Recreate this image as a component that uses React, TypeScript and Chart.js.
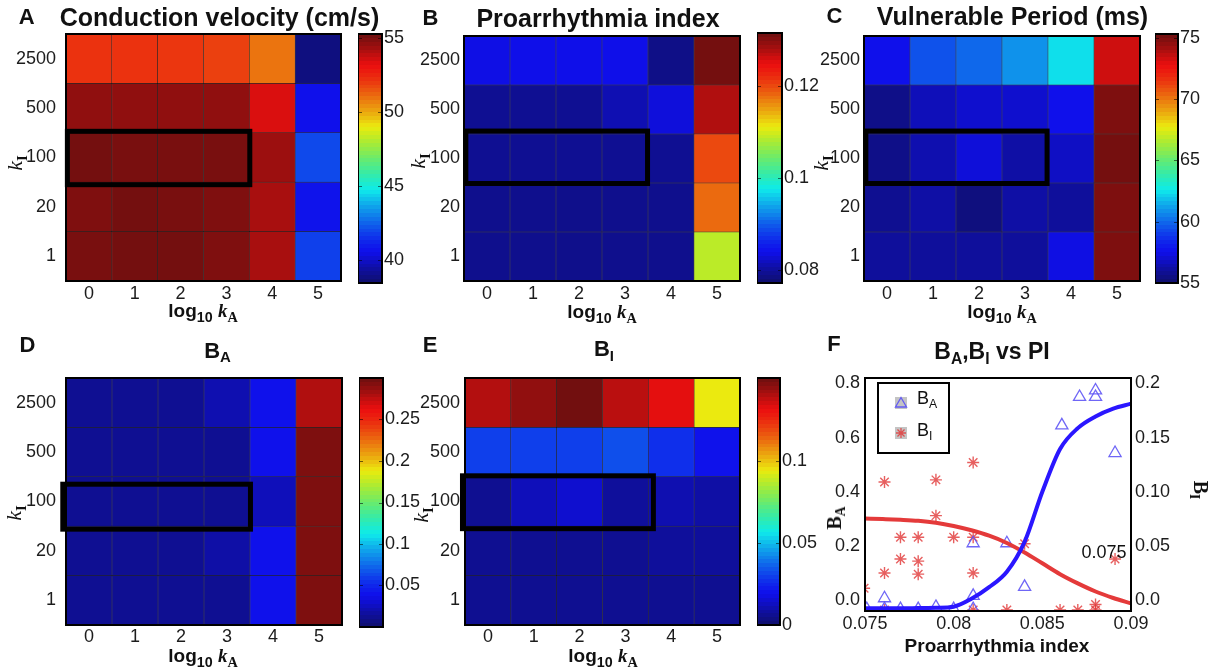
import React, { useEffect, useRef } from 'react';
import { Chart, registerables } from 'chart.js';

Chart.register(...registerables);

const SANS = '"Liberation Sans", Arial, Helvetica, sans-serif';
const SERIF = '"Liberation Serif", "Times New Roman", serif';

// ---- grid axes shared by the five maps ----
const kALabels = ['0', '1', '2', '3', '4', '5'];
const kILabels = ['1', '20', '100', '500', '2500'];

// Rows follow kILabels (kI = 1, 20, 100, 500, 2500); columns follow kALabels.
const conductionVelocity = [
  [55.0, 55.1, 55.1, 54.9, 54.2, 41.8],
  [54.9, 55.1, 55.0, 54.9, 54.2, 40.7],
  [55.1, 55.0, 55.0, 55.0, 54.4, 42.0],
  [54.6, 54.6, 54.6, 54.6, 53.4, 40.6],
  [52.2, 52.2, 52.1, 51.9, 50.9, 38.8],
];
const proarrhythmiaIndex = [
  [0.079, 0.079, 0.0789, 0.079, 0.079, 0.1087],
  [0.079, 0.079, 0.0789, 0.079, 0.079, 0.118],
  [0.0793, 0.0793, 0.0793, 0.0793, 0.0793, 0.12],
  [0.0793, 0.0793, 0.0793, 0.081, 0.0831, 0.1277],
  [0.0836, 0.0838, 0.0838, 0.0838, 0.0787, 0.131],
];
const vulnerablePeriod = [
  [56.0, 56.0, 56.0, 56.0, 57.4, 74.9],
  [55.8, 56.2, 55.4, 56.2, 56.0, 74.9],
  [55.6, 56.4, 57.2, 56.2, 56.8, 75.1],
  [55.6, 56.6, 57.0, 57.0, 57.6, 74.9],
  [57.6, 59.5, 60.0, 60.9, 62.4, 73.3],
];
const bAMap = [
  [0.012, 0.012, 0.012, 0.012, 0.039, 0.294],
  [0.012, 0.012, 0.012, 0.018, 0.039, 0.294],
  [0.012, 0.012, 0.012, 0.012, 0.024, 0.294],
  [0.012, 0.012, 0.012, 0.012, 0.039, 0.294],
  [0.012, 0.012, 0.012, 0.021, 0.039, 0.279],
];
const bIMap = [
  [0.006, 0.006, 0.006, 0.006, 0.006, 0.006],
  [0.006, 0.006, 0.006, 0.006, 0.0075, 0.0075],
  [0.006, 0.012, 0.015, 0.0075, 0.0106, 0.009],
  [0.03, 0.03, 0.03, 0.033, 0.027, 0.02],
  [0.14, 0.145, 0.15, 0.139, 0.133, 0.0944],
];

// colour ranges and colourbar ticks
const cvRange = [38.45, 55.25];
const cvTicks = [40, 45, 50, 55];
const cvTickLabels = ['40', '45', '50', '55'];
const piRange = [0.0771, 0.1315];
const piTicks = [0.08, 0.1, 0.12];
const piTickLabels = ['0.08', '0.1', '0.12'];
const vpRange = [55, 75.3];
const vpTicks = [55, 60, 65, 70, 75];
const vpTickLabels = ['55', '60', '65', '70', '75'];
const bARange = [0, 0.3];
const bATicks = [0.05, 0.1, 0.15, 0.2, 0.25];
const bATickLabels = ['0.05', '0.1', '0.15', '0.2', '0.25'];
const bIRange = [0, 0.151];
const bITicks = [0, 0.05, 0.1];
const bITickLabels = ['0', '0.05', '0.1'];

// ---- B_A, B_I versus proarrhythmia index ----
const piBA = [0.0751, 0.0761, 0.0761, 0.077, 0.078, 0.079, 0.08, 0.0811, 0.0811, 0.0811, 0.083, 0.084, 0.0861, 0.0871, 0.088, 0.088, 0.0891];
const baValues = [-0.033, 0.007, -0.033, -0.033, -0.033, -0.025, -0.033, 0.016, -0.033, 0.21, 0.21, 0.049, 0.645, 0.75, 0.774, 0.75, 0.543];
const piBI = [0.07495, 0.07495, 0.07495, 0.0761, 0.0761, 0.0761, 0.077, 0.077, 0.078, 0.078, 0.078, 0.079, 0.079, 0.08, 0.0811, 0.0811, 0.0811, 0.0811, 0.083, 0.084, 0.086, 0.087, 0.088, 0.088, 0.0891];
const biValues = [0.058, 0.046, 0.011, 0.109, 0.025, -0.009, 0.058, 0.038, 0.058, 0.036, 0.024, 0.111, 0.078, 0.058, 0.127, 0.058, 0.025, -0.009, -0.009, 0.052, -0.009, -0.009, -0.004, -0.009, 0.038];
const fitPI = [0.075, 0.076, 0.077, 0.078, 0.079, 0.08, 0.081, 0.082, 0.083, 0.084, 0.085, 0.086, 0.087, 0.088, 0.089, 0.09];
const baFit = [-0.03, -0.03, -0.03, -0.029, -0.028, -0.024, 0.005, 0.048, 0.105, 0.215, 0.4, 0.558, 0.635, 0.678, 0.707, 0.725];
const biFit = [0.0753, 0.0748, 0.0742, 0.0733, 0.0715, 0.0685, 0.0645, 0.0595, 0.0528, 0.044, 0.034, 0.024, 0.0155, 0.008, 0.002, -0.003];
const piAxisTicks = [0.075, 0.08, 0.085, 0.09];
const piAxisLabels = ['0.075', '0.08', '0.085', '0.09'];
const baAxisTicks = [0, 0.2, 0.4, 0.6, 0.8];
const baAxisLabels = ['0.0', '0.2', '0.4', '0.6', '0.8'];
const biAxisTicks = [0, 0.05, 0.1, 0.15, 0.2];
const biAxisLabels = ['0.0', '0.05', '0.10', '0.15', '0.2'];

// ---- jet colour map (slightly darkened, as printed) ----
function jet(t: number): number[] {
  const u = Math.min(1, Math.max(0, t));
  const f = (v: number) => Math.min(1, Math.max(0, 1.5 - Math.abs(v)));
  return [f(4 * u - 3), f(4 * u - 2), f(4 * u - 1)];
}
function jetColor(t: number): string {
  const c = jet(t);
  return `rgb(${c.map((v) => Math.round(255 * (0.06 + 0.86 * Math.pow(v, 1.25)))).join(',')})`;
}

const tickFont = { family: SANS, size: 18 };
const TICK_COLOR = '#1c1c1c';

const framePlugin = {
  id: 'frame',
  afterDatasetsDraw(chart: any) {
    const { ctx, chartArea: a } = chart;
    ctx.save();
    ctx.strokeStyle = '#000';
    ctx.lineWidth = 2;
    ctx.strokeRect(a.left, a.top, a.right - a.left, a.bottom - a.top);
    ctx.restore();
  },
};

type Rect = { x: number; y: number; w: number; h: number };

function Heatmap(props: { plot: Rect; values: number[][]; range: number[]; box: number[]; yPad: number; xPad: number }) {
  const { plot, values, range, box, yPad, xPad } = props;
  const ref = useRef<HTMLCanvasElement>(null);
  const ML = 62, MT = 26, MR = 8, MB = 34;
  useEffect(() => {
    const [lo, hi] = range;
    const highlight = {
      id: 'highlight',
      afterDatasetsDraw(chart: any) {
        const { ctx, scales } = chart;
        const l = scales.x.getPixelForValue(box[0]);
        const r = scales.x.getPixelForValue(box[1]);
        const b = scales.y.getPixelForValue(box[2]);
        const t = scales.y.getPixelForValue(box[3]);
        ctx.save();
        ctx.strokeStyle = '#000';
        ctx.lineWidth = 5;
        ctx.strokeRect(l, t, r - l, b - t);
        ctx.restore();
      },
    };
    const chart = new Chart(ref.current!, {
      type: 'bar',
      data: {
        labels: kALabels,
        datasets: values.map((row, r) => ({
          data: row.map(() => [r - 0.5, r + 0.5]),
          backgroundColor: row.map((v) => jetColor((v - lo) / (hi - lo))),
          borderColor: 'rgba(0,0,0,0.72)',
          borderWidth: 0.6,
          borderSkipped: false,
          grouped: false,
          barPercentage: 1,
          categoryPercentage: 1,
        })),
      } as any,
      options: {
        responsive: false,
        animation: false,
        devicePixelRatio: 1,
        layout: { padding: { left: 0, top: MT, right: MR, bottom: 0 } },
        plugins: { legend: { display: false }, tooltip: { enabled: false } },
        scales: {
          x: {
            grid: { display: false, drawTicks: false },
            border: { display: false },
            ticks: { font: tickFont, color: TICK_COLOR, padding: xPad, maxRotation: 0 },
            afterFit: (s: any) => { s.height = MB; },
          },
          y: {
            min: -0.5,
            max: 4.5,
            grid: { display: false, drawTicks: false },
            border: { display: false },
            afterBuildTicks: (s: any) => { s.ticks = kILabels.map((_, i) => ({ value: i })); },
            ticks: { font: tickFont, color: TICK_COLOR, padding: yPad, callback: (v: any) => kILabels[Math.round(v)] },
            afterFit: (s: any) => { s.width = ML; },
          },
        },
      } as any,
      plugins: [highlight, framePlugin],
    });
    return () => chart.destroy();
  }, []);
  const W = plot.w + ML + MR, H = plot.h + MT + MB;
  return <canvas ref={ref} width={W} height={H} style={{ position: 'absolute', left: plot.x - ML, top: plot.y - MT, width: W, height: H }} />;
}

function Colorbar(props: { bar: Rect; range: number[]; ticks: number[]; labels: string[] }) {
  const { bar, range, ticks, labels } = props;
  const ref = useRef<HTMLCanvasElement>(null);
  const MV = 16, LW = 52;
  useEffect(() => {
    const [lo, hi] = range;
    const tickMarks = {
      id: 'cbTicks',
      afterDatasetsDraw(chart: any) {
        const { ctx, chartArea: a, scales } = chart;
        ctx.save();
        ctx.strokeStyle = 'rgba(0,0,0,0.55)';
        ctx.lineWidth = 1;
        ticks.forEach((t) => {
          const p = Math.round(scales.y.getPixelForValue(t)) + 0.5;
          ctx.beginPath();
          ctx.moveTo(a.left, p); ctx.lineTo(a.left + 4, p);
          ctx.moveTo(a.right, p); ctx.lineTo(a.right - 4, p);
          ctx.stroke();
        });
        ctx.restore();
      },
    };
    const chart = new Chart(ref.current!, {
      type: 'bar',
      data: {
        labels: [''],
        datasets: [{
          data: [[lo, hi]],
          backgroundColor: (c: any) => {
            const ch = c.chart;
            const y = ch.scales.y;
            if (!ch.chartArea || !y) return 'transparent';
            const g = ch.ctx.createLinearGradient(0, y.getPixelForValue(lo), 0, y.getPixelForValue(hi));
            for (let i = 0; i < 64; i++) {
              const col = jetColor((i + 0.5) / 64);
              g.addColorStop(i / 64, col);
              g.addColorStop((i + 1) / 64, col);
            }
            return g;
          },
          borderWidth: 0,
          barPercentage: 1,
          categoryPercentage: 1,
        }],
      } as any,
      options: {
        responsive: false,
        animation: false,
        devicePixelRatio: 1,
        layout: { padding: { left: 0, top: MV, right: 0, bottom: MV } },
        plugins: { legend: { display: false }, tooltip: { enabled: false } },
        scales: {
          x: { display: false },
          y: {
            position: 'right',
            min: lo,
            max: hi,
            grid: { display: false, drawTicks: false },
            border: { display: false },
            afterBuildTicks: (s: any) => { s.ticks = ticks.map((v) => ({ value: v })); },
            ticks: { font: tickFont, color: TICK_COLOR, padding: 2, callback: (_v: any, i: number) => labels[i] },
            afterFit: (s: any) => { s.width = LW; },
          },
        },
      } as any,
      plugins: [tickMarks, framePlugin],
    });
    return () => chart.destroy();
  }, []);
  const W = bar.w + LW, H = bar.h + 2 * MV;
  return <canvas ref={ref} width={W} height={H} style={{ position: 'absolute', left: bar.x, top: bar.y - MV, width: W, height: H }} />;
}

function PIScatter(props: { plot: Rect }) {
  const { plot } = props;
  const ref = useRef<HTMLCanvasElement>(null);
  const ML = 60, MR = 60, MT = 22, MB = 34;
  useEffect(() => {
    const legendBox = {
      id: 'legendBox',
      afterDraw(chart: any) {
        const { ctx, chartArea: a } = chart;
        const lx = a.left + 13, ly = a.top + 5;
        ctx.save();
        ctx.fillStyle = '#fff';
        ctx.fillRect(lx, ly, 71, 70);
        ctx.strokeStyle = '#000';
        ctx.lineWidth = 2;
        ctx.strokeRect(lx, ly, 71, 70);
        const mx = a.left + 36;
        const y1 = a.top + 25, y2 = a.top + 55;
        ctx.fillStyle = '#c4c4c4';
        ctx.fillRect(mx - 6, y1 - 6, 12, 12);
        ctx.fillRect(mx - 6, y2 - 6, 12, 12);
        // triangle
        ctx.strokeStyle = 'rgba(95,85,245,0.95)';
        ctx.lineWidth = 1.3;
        ctx.beginPath();
        ctx.moveTo(mx, y1 - 5.5);
        ctx.lineTo(mx + 5.5, y1 + 4);
        ctx.lineTo(mx - 5.5, y1 + 4);
        ctx.closePath();
        ctx.stroke();
        // asterisk
        ctx.strokeStyle = 'rgba(225,60,60,0.85)';
        ctx.beginPath();
        for (let k = 0; k < 4; k++) {
          const ang = (k * Math.PI) / 4;
          ctx.moveTo(mx - 5 * Math.cos(ang), y2 - 5 * Math.sin(ang));
          ctx.lineTo(mx + 5 * Math.cos(ang), y2 + 5 * Math.sin(ang));
        }
        ctx.stroke();
        ctx.restore();
      },
    };
    const font = { family: SANS, size: 18 };
    const chart = new Chart(ref.current!, {
      type: 'scatter',
      data: {
        datasets: [
          {
            type: 'line',
            data: fitPI.map((x, i) => ({ x, y: baFit[i] })),
            borderColor: '#2a16ff',
            borderWidth: 4,
            pointRadius: 0,
            cubicInterpolationMode: 'monotone',
            yAxisID: 'y',
          },
          {
            type: 'line',
            data: fitPI.map((x, i) => ({ x, y: biFit[i] })),
            borderColor: '#e43a3a',
            borderWidth: 4,
            pointRadius: 0,
            cubicInterpolationMode: 'monotone',
            yAxisID: 'y1',
          },
          {
            data: piBA.map((x, i) => ({ x, y: baValues[i] })),
            pointStyle: 'triangle',
            pointRadius: 7,
            pointBorderColor: 'rgba(95,85,245,0.9)',
            pointBackgroundColor: 'rgba(0,0,0,0)',
            pointBorderWidth: 1.3,
            yAxisID: 'y',
          },
          {
            data: piBI.map((x, i) => ({ x, y: biValues[i] })),
            pointStyle: 'star',
            pointRadius: 6,
            pointBorderColor: 'rgba(225,55,55,0.8)',
            pointBorderWidth: 1.4,
            yAxisID: 'y1',
          },
        ],
      } as any,
      options: {
        responsive: false,
        animation: false,
        devicePixelRatio: 1,
        layout: { padding: { left: 0, top: MT, right: 0, bottom: 0 } },
        plugins: { legend: { display: false }, tooltip: { enabled: false } },
        scales: {
          x: {
            type: 'linear',
            min: 0.075,
            max: 0.09,
            grid: { display: false, drawTicks: false },
            border: { display: false },
            afterBuildTicks: (s: any) => { s.ticks = piAxisTicks.map((v) => ({ value: v })); },
            ticks: { font, color: TICK_COLOR, padding: 2, maxRotation: 0, callback: (_v: any, i: number) => piAxisLabels[i] },
            afterFit: (s: any) => { s.height = MB; },
          },
          y: {
            position: 'left',
            min: -0.04,
            max: 0.82,
            grid: { display: false, drawTicks: false },
            border: { display: false },
            afterBuildTicks: (s: any) => { s.ticks = baAxisTicks.map((v) => ({ value: v })); },
            ticks: { font, color: TICK_COLOR, padding: 5, callback: (_v: any, i: number) => baAxisLabels[i] },
            afterFit: (s: any) => { s.width = ML; },
          },
          y1: {
            position: 'right',
            min: -0.01,
            max: 0.205,
            grid: { display: false, drawTicks: false },
            border: { display: false },
            afterBuildTicks: (s: any) => { s.ticks = biAxisTicks.map((v) => ({ value: v })); },
            ticks: { font, color: TICK_COLOR, padding: 4, callback: (_v: any, i: number) => biAxisLabels[i] },
            afterFit: (s: any) => { s.width = MR; },
          },
        },
      } as any,
      plugins: [framePlugin, legendBox],
    });
    return () => chart.destroy();
  }, []);
  const W = plot.w + ML + MR, H = plot.h + MT + MB;
  return <canvas ref={ref} width={W} height={H} style={{ position: 'absolute', left: plot.x - ML, top: plot.y - MT, width: W, height: H }} />;
}

function Txt(props: { x: number; y: number; size: number; bold?: boolean; anchor?: 'center' | 'left'; rotate?: number; family?: string; children: React.ReactNode }) {
  const { x, y, size, bold, anchor = 'center', rotate = 0, family = SANS, children } = props;
  const tx = anchor === 'center' ? '-50%' : '0';
  return (
    <div
      style={{
        position: 'absolute', left: x, top: y,
        transform: `translate(${tx},-50%) rotate(${rotate}deg)`,
        fontFamily: family, fontSize: size, fontWeight: bold ? 'bold' : 'normal',
        lineHeight: 1, whiteSpace: 'nowrap', color: '#111',
      }}
    >
      {children}
    </div>
  );
}

const Sub = (p: { children: React.ReactNode; family?: string; bold?: boolean; scale?: number }) => (
  <span style={{ fontSize: `${p.scale ?? 0.68}em`, position: 'relative', top: '0.32em', fontFamily: p.family, fontWeight: p.bold ? 'bold' : undefined }}>{p.children}</span>
);

const KI = () => (
  <span style={{ fontFamily: SERIF }}>
    <span style={{ fontStyle: 'italic' }}>k</span>
    <Sub family={SERIF} bold>I</Sub>
  </span>
);
const LogKA = () => (
  <span style={{ fontWeight: 'bold' }}>
    log<Sub scale={0.75}>10</Sub>{' '}
    <span style={{ fontFamily: SERIF, fontStyle: 'italic' }}>k</span>
    <Sub family={SERIF} scale={0.75}>A</Sub>
  </span>
);

export default function App() {
  const box = (l: number, r: number, b: number, t: number) => [l, r, b, t];
  return (
    <div style={{ position: 'absolute', left: 0, top: 0, width: 1211, height: 670, background: '#fff', overflow: 'hidden' }}>
      <Heatmap plot={{ x: 66, y: 34, w: 275, h: 247 }} values={conductionVelocity} range={cvRange} box={box(-0.47, 3.51, 1.45, 2.53)} yPad={10} xPad={2} />
      <Colorbar bar={{ x: 358, y: 34, w: 24, h: 249 }} range={cvRange} ticks={cvTicks} labels={cvTickLabels} />
      <Heatmap plot={{ x: 464, y: 36, w: 276, h: 245 }} values={proarrhythmiaIndex} range={piRange} box={box(-0.46, 3.49, 1.49, 2.56)} yPad={4} xPad={2} />
      <Colorbar bar={{ x: 757, y: 33, w: 25, h: 250 }} range={piRange} ticks={piTicks} labels={piTickLabels} />
      <Heatmap plot={{ x: 864, y: 36, w: 276, h: 245 }} values={vulnerablePeriod} range={vpRange} box={box(-0.46, 3.48, 1.49, 2.56)} yPad={4} xPad={2} />
      <Colorbar bar={{ x: 1155, y: 34, w: 23, h: 249 }} range={vpRange} ticks={vpTicks} labels={vpTickLabels} />
      <Heatmap plot={{ x: 66, y: 378, w: 276, h: 247 }} values={bAMap} range={bARange} box={box(-0.57, 3.51, 1.44, 2.35)} yPad={10} xPad={1} />
      <Colorbar bar={{ x: 359, y: 378, w: 24, h: 249 }} range={bARange} ticks={bATicks} labels={bATickLabels} />
      <Heatmap plot={{ x: 465, y: 378, w: 275, h: 247 }} values={bIMap} range={bIRange} box={box(-0.555, 3.61, 1.45, 2.52)} yPad={5} xPad={1} />
      <Colorbar bar={{ x: 757, y: 378, w: 23, h: 247 }} range={bIRange} ticks={bITicks} labels={bITickLabels} />
      <PIScatter plot={{ x: 865, y: 378, w: 266, h: 233 }} />

      {/* panel letters and titles */}
      <Txt x={26.7} y={17} size={22} bold>A</Txt>
      <Txt x={219.5} y={17} size={25} bold>Conduction velocity (cm/s)</Txt>
      <Txt x={430.5} y={17.5} size={22} bold>B</Txt>
      <Txt x={598} y={17.5} size={25} bold>Proarrhythmia index</Txt>
      <Txt x={834.5} y={15.5} size={22} bold>C</Txt>
      <Txt x={1012.5} y={15.5} size={25} bold>Vulnerable Period (ms)</Txt>
      <Txt x={27.5} y={345} size={22} bold>D</Txt>
      <Txt x={217.5} y={350.5} size={22} bold>B<Sub>A</Sub></Txt>
      <Txt x={430} y={344.5} size={22} bold>E</Txt>
      <Txt x={604} y={349} size={22} bold>B<Sub>I</Sub></Txt>
      <Txt x={834} y={344} size={22} bold>F</Txt>
      <Txt x={992} y={350.5} size={23} bold>B<Sub>A</Sub>,B<Sub>I</Sub> vs PI</Txt>

      {/* axis labels */}
      <Txt x={15} y={163} size={22} rotate={-90}><KI /></Txt>
      <Txt x={418} y={161} size={22} rotate={-90}><KI /></Txt>
      <Txt x={821} y={163} size={22} rotate={-90}><KI /></Txt>
      <Txt x={14} y={513} size={22} rotate={-90}><KI /></Txt>
      <Txt x={421} y={515} size={22} rotate={-90}><KI /></Txt>
      <Txt x={203} y={310} size={19}><LogKA /></Txt>
      <Txt x={602} y={311} size={19}><LogKA /></Txt>
      <Txt x={1002} y={311} size={19}><LogKA /></Txt>
      <Txt x={203} y={655} size={19}><LogKA /></Txt>
      <Txt x={603} y={655} size={19}><LogKA /></Txt>

      <Txt x={834} y={518} size={20} bold rotate={-90} family={SERIF}>B<Sub family={SERIF}>A</Sub></Txt>
      <Txt x={1201} y={490} size={20} bold rotate={90} family={SERIF}>B<Sub family={SERIF}>I</Sub></Txt>
      <Txt x={997} y={645} size={19} bold>Proarrhythmia index</Txt>
      <Txt x={1104} y={552} size={18}>0.075</Txt>
      <Txt x={917} y={398} size={18} anchor="left">B<Sub>A</Sub></Txt>
      <Txt x={917} y={430} size={18} anchor="left">B<Sub>I</Sub></Txt>
    </div>
  );
}
